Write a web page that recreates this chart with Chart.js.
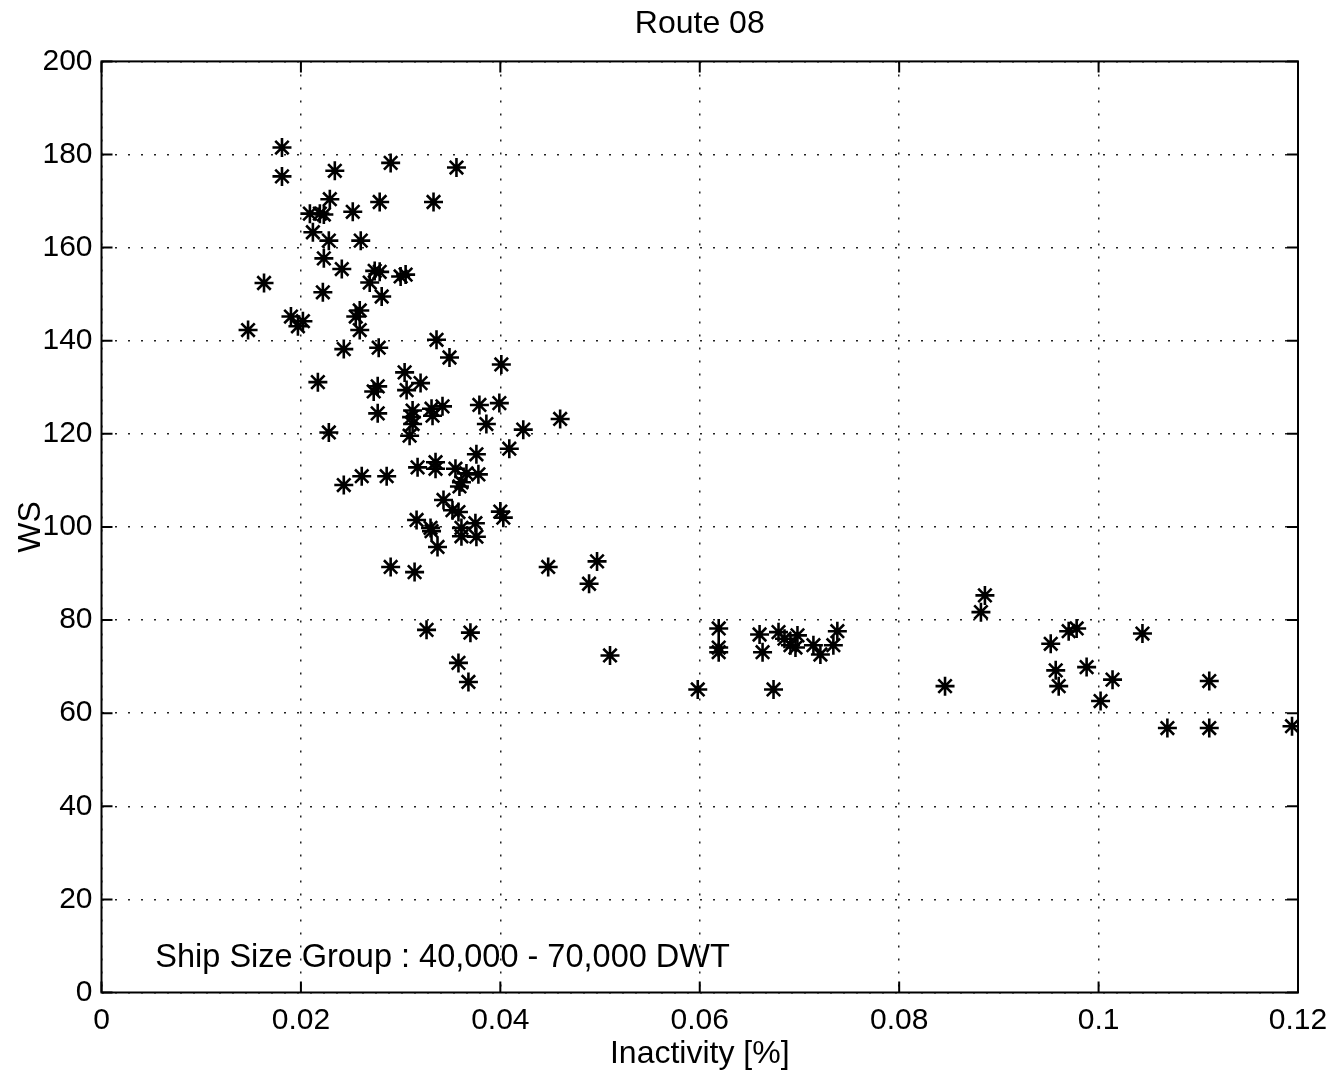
<!DOCTYPE html>
<html>
<head>
<meta charset="utf-8">
<script src="https://cdn.jsdelivr.net/npm/chart.js@4.4.1/dist/chart.umd.min.js"></script>
<style>
  html, body { margin: 0; padding: 0; background: #fff; }
  #wrap { width: 1343px; height: 1076px; }
</style>
</head>
<body>
<div id="wrap"><canvas id="routeChart" width="1343" height="1076"></canvas></div>
<script>
// Inactivity [%] vs WS, Route 08
const inactivity = [
  0.0181, 0.0181, 0.0234, 0.0290, 0.0356, 0.0229, 0.0279, 0.0333, 0.0252, 0.0209,
  0.0219, 0.0223, 0.0212, 0.0228, 0.0260, 0.0223, 0.0241, 0.0274, 0.0279, 0.0300,
  0.0305, 0.0269, 0.0163, 0.0222, 0.0281, 0.0190, 0.0202, 0.0197, 0.0147, 0.0259,
  0.0255, 0.0259, 0.0243, 0.0278, 0.0336, 0.0349, 0.0401, 0.0304, 0.0320, 0.0306,
  0.0217, 0.0277, 0.0273, 0.0277, 0.0312, 0.0311, 0.0312, 0.0309, 0.0331, 0.0342,
  0.0332, 0.0379, 0.0399, 0.0386, 0.0228, 0.0423, 0.0460, 0.0409, 0.0376, 0.0317,
  0.0335, 0.0335, 0.0355, 0.0366, 0.0378, 0.0361, 0.0359, 0.0261, 0.0286, 0.0243,
  0.0343, 0.0352, 0.0358, 0.0400, 0.0403, 0.0316, 0.0330, 0.0331, 0.0361, 0.0375,
  0.0361, 0.0376, 0.0337, 0.0290, 0.0314, 0.0448, 0.0497, 0.0489, 0.0326, 0.0370,
  0.0510, 0.0358, 0.0368, 0.0598, 0.0619, 0.0619, 0.0619, 0.0660, 0.0663, 0.0674,
  0.0679, 0.0685, 0.0691, 0.0698, 0.0696, 0.0714, 0.0721, 0.0738, 0.0734, 0.0886,
  0.0882, 0.0846, 0.0952, 0.0970, 0.0978, 0.0957, 0.0960, 0.0988, 0.1014, 0.1002,
  0.1044, 0.1111, 0.1069, 0.1111, 0.1194
];
const ws = [
  181.5, 175.3, 176.5, 178.2, 177.2, 170.4, 169.8, 169.8, 167.7, 167.3,
  167.3, 167.1, 163.3, 161.5, 161.5, 157.7, 155.4, 155.0, 154.8, 153.8,
  154.2, 152.5, 152.4, 150.4, 149.5, 145.2, 144.2, 143.1, 142.3, 146.5,
  145.2, 142.3, 138.2, 138.5, 140.2, 136.4, 134.9, 133.2, 130.9, 129.4,
  131.1, 130.2, 129.1, 124.4, 125.0, 123.6, 122.1, 119.6, 125.4, 125.9,
  123.9, 126.2, 126.6, 122.1, 120.3, 120.9, 123.2, 116.8, 115.6, 112.8,
  113.9, 112.5, 112.5, 111.5, 111.3, 109.6, 108.7, 110.9, 110.9, 109.0,
  105.8, 103.6, 103.2, 103.3, 102.0, 101.5, 99.8, 99.1, 99.8, 100.8,
  98.0, 97.9, 95.7, 91.4, 90.3, 91.4, 92.6, 87.8, 77.9, 77.3,
  72.4, 70.8, 66.7, 65.1, 78.2, 74.1, 73.1, 76.9, 73.1, 65.1,
  77.4, 76.0, 74.6, 76.7, 74.1, 74.6, 72.6, 77.6, 74.6, 85.3,
  81.7, 65.8, 74.9, 77.6, 78.2, 69.2, 65.8, 69.9, 67.2, 62.6,
  77.1, 66.9, 56.8, 56.8, 57.2
];
const xTicks = [0, 0.02, 0.04, 0.06, 0.08, 0.1, 0.12];
const yTicks = [0, 20, 40, 60, 80, 100, 120, 140, 160, 180, 200];

const noteText = "Ship Size Group : 40,000 - 70,000 DWT";
const notePos = { x: 0.0054, y: 7.4 };

const FONT = "'Liberation Sans', Arial, Helvetica, sans-serif";

// box around the plot plus MATLAB style inward ticks, and the text note
const boxPlugin = {
  id: "boxTicks",
  afterDraw(chart) {
    const { ctx, chartArea: a, scales } = chart;
    const x = scales.x, y = scales.y;
    const len = 11;
    ctx.save();
    ctx.strokeStyle = "#000";
    ctx.lineWidth = 2;
    ctx.setLineDash([]);
    ctx.strokeRect(a.left, a.top, a.right - a.left, a.bottom - a.top);
    ctx.beginPath();
    xTicks.forEach(v => {
      const px = x.getPixelForValue(v);
      ctx.moveTo(px, a.bottom); ctx.lineTo(px, a.bottom - len);
      ctx.moveTo(px, a.top); ctx.lineTo(px, a.top + len);
    });
    yTicks.forEach(v => {
      const py = y.getPixelForValue(v);
      ctx.moveTo(a.left, py); ctx.lineTo(a.left + len, py);
      ctx.moveTo(a.right, py); ctx.lineTo(a.right - len, py);
    });
    ctx.stroke();

    ctx.fillStyle = "#000";
    ctx.font = "32.5px " + FONT;
    ctx.textAlign = "left";
    ctx.textBaseline = "middle";
    ctx.fillText(noteText, x.getPixelForValue(notePos.x), y.getPixelForValue(notePos.y));
    ctx.restore();
  }
};

const fmt = v => String(Number(v.toFixed(2)));

new Chart(document.getElementById("routeChart"), {
  type: "scatter",
  data: {
    datasets: [{
      data: inactivity.map((v, i) => ({ x: v, y: ws[i] })),
      pointStyle: "star",
      pointRadius: 9.5,
      pointHoverRadius: 9.5,
      borderColor: "#000",
      backgroundColor: "#000",
      borderWidth: 2.6
    }]
  },
  options: {
    responsive: false,
    animation: false,
    devicePixelRatio: 1,
    layout: { padding: { left: 0, right: 45, top: 0, bottom: 0 } },
    plugins: {
      legend: { display: false },
      tooltip: { enabled: false },
      title: {
        display: true,
        fullSize: false,
        text: "Route 08",
        color: "#000",
        font: { family: FONT, size: 32, weight: "normal" },
        padding: { top: 5, bottom: 18 }
      }
    },
    scales: {
      x: {
        type: "linear",
        min: 0,
        max: 0.12,
        afterBuildTicks: s => { s.ticks = xTicks.map(v => ({ value: v })); },
        afterFit: s => { s.height = 83.5; },
        ticks: {
          color: "#000",
          font: { family: FONT, size: 30 },
          padding: 10,
          maxRotation: 0,
          autoSkip: false,
          callback: v => fmt(v)
        },
        grid: { color: "#222", lineWidth: 1.5, drawTicks: false },
        border: { display: false, dash: [2, 11] },
        title: {
          display: true,
          text: "Inactivity [%]",
          color: "#000",
          font: { family: FONT, size: 32 },
          padding: { top: 0, bottom: 3 }
        }
      },
      y: {
        type: "linear",
        min: 0,
        max: 200,
        afterBuildTicks: s => { s.ticks = yTicks.map(v => ({ value: v })); },
        afterFit: s => { s.width = 101.5; },
        ticks: {
          color: "#000",
          font: { family: FONT, size: 30 },
          padding: 9,
          autoSkip: false,
          callback: v => fmt(v)
        },
        grid: { color: "#222", lineWidth: 1.5, drawTicks: false },
        border: { display: false, dash: [2, 11] },
        title: {
          display: true,
          text: "WS",
          color: "#000",
          font: { family: FONT, size: 32 },
          padding: { top: 12, bottom: 0 }
        }
      }
    }
  },
  plugins: [boxPlugin]
});
</script>
</body>
</html>
